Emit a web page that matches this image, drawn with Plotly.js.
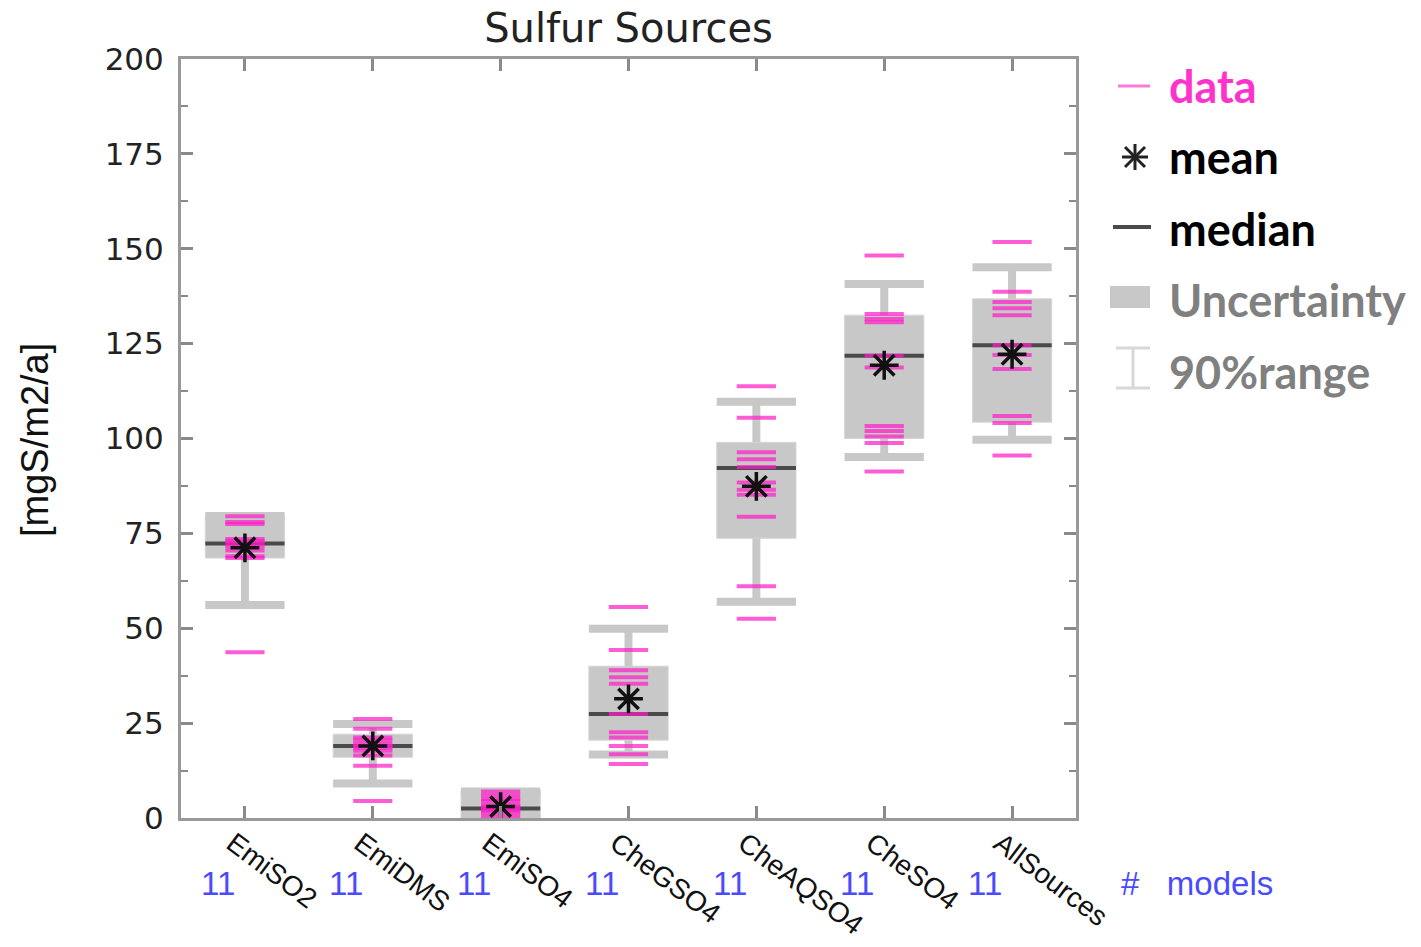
<!DOCTYPE html>
<html>
<head>
<meta charset="utf-8">
<script src="https://cdn.plot.ly/plotly-3.0.1.min.js"></script>
<style>html,body{margin:0;padding:0;background:#fff;}#chart{width:1421px;height:947px;}</style>
</head>
<body>
<div id="chart"></div>
<script>
// ---- data ----
const categories = ['EmiSO2','EmiDMS','EmiSO4','CheGSO4','CheAQSO4','CheSO4','AllSources'];
const nModels    = [11, 11, 11, 11, 11, 11, 11];
const boxLow     = [68.5, 16.0, -1.0, 20.5, 73.7, 100.0, 104.3];
const boxHigh    = [79.6, 22.1, 7.3, 40.0, 99.0, 132.5, 136.8];
const whiskerLow = [56.1, 9.1, 0.0, 16.7, 57.0, 95.1, 99.7];
const whiskerHigh= [79.6, 24.8, 7.0, 49.9, 109.7, 140.7, 145.1];
const medianVals = [72.3, 19.0, 2.5, 27.4, 92.2, 121.8, 124.6];
const meanVals   = [71.2, 19.0, 3.0, 31.4, 87.4, 119.3, 122.2];

const dataEmiSO2     = [79.5, 78.0, 77.5, 73.5, 73.0, 72.3, 71.5, 70.5, 69.0, 68.5, 43.7];
const dataEmiDMS     = [26.1, 23.5, 21.2, 20.5, 19.5, 19.0, 18.5, 17.7, 16.5, 13.8, 4.5];
const dataEmiSO4     = [7.0, 6.0, 5.0, 4.5, 3.5, 3.0, 2.5, 2.0, 1.5, 0.5, -0.5];
const dataCheGSO4    = [55.6, 44.3, 38.9, 37.1, 35.4, 27.4, 22.6, 21.2, 19.0, 16.8, 14.2];
const dataCheAQSO4   = [113.8, 105.5, 96.4, 94.5, 92.5, 88.4, 86.5, 85.2, 79.4, 61.1, 52.5];
const dataCheSO4     = [148.2, 132.8, 131.5, 130.6, 121.8, 118.7, 103.3, 102.0, 100.5, 98.8, 91.3];
const dataAllSources = [151.8, 138.7, 136.0, 134.3, 132.5, 124.6, 122.0, 118.3, 105.9, 104.1, 95.5];
const modelData = [dataEmiSO2, dataEmiDMS, dataEmiSO4, dataCheGSO4, dataCheAQSO4, dataCheSO4, dataAllSources];

// ---- build traces ----
const xs = categories.map((c, i) => i);
const half = 0.31;
const boxGray = '#c8c8c8';

const capX = [], capY = [], stemX = [], stemY = [], medX = [], medY = [];
xs.forEach(i => {
  capX.push(i - half, i + half, null, i - half, i + half, null);
  capY.push(whiskerHigh[i], whiskerHigh[i], null, whiskerLow[i], whiskerLow[i], null);
  stemX.push(i, i, null, i, i, null);
  stemY.push(boxHigh[i], whiskerHigh[i], null, boxLow[i], whiskerLow[i], null);
  medX.push(i - half, i + half, null);
  medY.push(medianVals[i], medianVals[i], null);
});

const ptX = [], ptY = [];
modelData.forEach((arr, i) => arr.forEach(v => { ptX.push(i); ptY.push(v); }));

const traces = [
  { type: 'bar', x: xs, y: xs.map(i => boxHigh[i] - boxLow[i]), base: boxLow, width: 0.62,
    marker: { color: boxGray, line: { width: 1, color: '#d6d6d6' } }, hoverinfo: 'skip', showlegend: false },
  { type: 'scatter', mode: 'lines', x: stemX, y: stemY, line: { color: boxGray, width: 8 },
    hoverinfo: 'skip', showlegend: false },
  { type: 'scatter', mode: 'lines', x: capX, y: capY, line: { color: boxGray, width: 8 },
    hoverinfo: 'skip', showlegend: false },
  { type: 'scatter', mode: 'lines', x: medX, y: medY, line: { color: '#4a4a4a', width: 4 },
    hoverinfo: 'skip', showlegend: false },
  { type: 'scatter', mode: 'markers', x: ptX, y: ptY,
    marker: { symbol: 'line-ew', size: 28, color: 'rgba(255,30,200,0.72)', line: { width: 4, color: 'rgba(255,30,200,0.72)' } },
    showlegend: false },
  { type: 'scatter', mode: 'markers', x: xs, y: meanVals,
    marker: { symbol: 'asterisk-open', size: 24, color: '#111111', line: { width: 3.5, color: '#111111' } },
    showlegend: false }
];

// ---- legend (drawn beside the plot) ----
const P = (px) => (px - 181) / 895;
const Q = (py) => (818 - py) / 759;
const legFont = 'Comic Sans MS, Lato, sans-serif';
const pix = (cx, cy, extra) => Object.assign({ xref: 'paper', yref: 'paper', xsizemode: 'pixel', ysizemode: 'pixel',
  xanchor: P(cx), yanchor: Q(cy) }, extra);

const shapes = [
  pix(1134, 86, { type: 'line', x0: -16, x1: 16, y0: 0, y1: 0, line: { color: '#ff7ad8', width: 3 } }),
  pix(1135, 157, { type: 'line', x0: -13, x1: 13, y0: 0, y1: 0, line: { color: '#222', width: 3 } }),
  pix(1135, 157, { type: 'line', x0: 0, x1: 0, y0: -13, y1: 13, line: { color: '#222', width: 3 } }),
  pix(1135, 157, { type: 'line', x0: -10, x1: 10, y0: -10, y1: 10, line: { color: '#222', width: 3 } }),
  pix(1135, 157, { type: 'line', x0: -10, x1: 10, y0: 10, y1: -10, line: { color: '#222', width: 3 } }),
  pix(1132, 227, { type: 'line', x0: -19, x1: 19, y0: 0, y1: 0, line: { color: '#4a4a4a', width: 4 } }),
  pix(1130, 297, { type: 'rect', x0: -20, x1: 20, y0: -11, y1: 11, fillcolor: boxGray, line: { width: 0 } }),
  pix(1133, 368, { type: 'line', x0: -17, x1: 17, y0: 20, y1: 20, line: { color: '#d8d8d8', width: 3 } }),
  pix(1133, 368, { type: 'line', x0: -17, x1: 17, y0: -20, y1: -20, line: { color: '#d8d8d8', width: 3 } }),
  pix(1133, 368, { type: 'line', x0: 0, x1: 0, y0: -20, y1: 20, line: { color: '#d8d8d8', width: 3 } })
];

const legendItems = [
  { text: 'data', y: 86, color: '#ff33cc' },
  { text: 'mean', y: 157, color: '#000000' },
  { text: 'median', y: 229, color: '#000000' },
  { text: 'Uncertainty', y: 300, color: '#808080' },
  { text: '90%range', y: 372, color: '#808080' }
];

const annotations = legendItems.map(it => ({
  xref: 'paper', yref: 'paper', x: P(1167), y: Q(it.y), xanchor: 'left', yanchor: 'middle',
  text: it.text, showarrow: false, font: { family: legFont, size: 45, color: it.color, weight: 'bold' }
}));

xs.forEach(i => annotations.push({
  xref: 'x', yref: 'paper', x: i - 0.21, y: Q(883), xanchor: 'center', yanchor: 'middle',
  text: String(nModels[i]), showarrow: false,
  font: { family: 'Liberation Sans Narrow, Liberation Sans, sans-serif', size: 33, color: '#4a4aff' }
}));
annotations.push({
  xref: 'paper', yref: 'paper', x: P(1119), y: Q(883), xanchor: 'left', yanchor: 'middle',
  text: '#&nbsp;&nbsp;&nbsp;models', showarrow: false,
  font: { family: 'Liberation Sans Narrow, Liberation Sans, sans-serif', size: 33, color: '#4a4aff' }
});
annotations.push({
  xref: 'paper', yref: 'paper', x: P(35), y: Q(440), xanchor: 'center', yanchor: 'middle',
  text: '[mgS/m2/a]', textangle: -90, showarrow: false,
  font: { family: 'Liberation Sans, Arial, sans-serif', size: 38, color: '#111' }
});

const layout = {
  width: 1421, height: 947,
  margin: { l: 181, r: 345, t: 59, b: 129 },
  paper_bgcolor: '#ffffff', plot_bgcolor: '#ffffff',
  showlegend: false,
  title: { text: 'Sulfur Sources', x: 0.5, xref: 'paper', y: 1 - 28 / 947, yanchor: 'middle',
    font: { family: 'DejaVu Sans, sans-serif', size: 40, color: '#222' } },
  xaxis: {
    range: [-0.5, 6.5], tickmode: 'array', tickvals: xs, ticktext: categories, tickangle: 37,
    ticks: 'inside', ticklen: 12, tickwidth: 3, tickcolor: '#8a8a8a',
    showline: true, linecolor: '#999999', linewidth: 3, mirror: 'ticks',
    showgrid: false, zeroline: false, fixedrange: true, ticklabelshift: -12, ticklabelstandoff: -5,
    tickfont: { family: 'Liberation Sans, Arial, sans-serif', size: 28, color: '#111' }
  },
  yaxis: {
    range: [0, 200], tickmode: 'linear', tick0: 0, dtick: 25,
    ticks: 'inside', ticklen: 12, tickwidth: 3, tickcolor: '#8a8a8a',
    minor: { dtick: 12.5, ticks: 'inside', ticklen: 7, tickwidth: 2, tickcolor: '#8a8a8a', showgrid: false },
    showline: true, linecolor: '#999999', linewidth: 3, mirror: 'ticks',
    showgrid: false, zeroline: false, fixedrange: true, ticklabelstandoff: 8,
    tickfont: { family: 'DejaVu Sans, sans-serif', size: 31, color: '#222' }
  },
  shapes: shapes,
  annotations: annotations,
  barmode: 'overlay'
};

Plotly.newPlot('chart', traces, layout, { displayModeBar: false, staticPlot: true });
</script>
</body>
</html>
